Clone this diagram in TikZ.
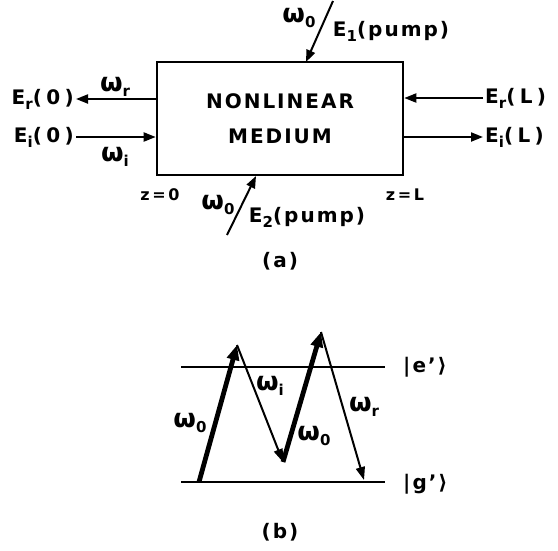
\documentclass[tikz,border=0pt]{standalone}
\usepackage{fontspec}
\setmainfont{DejaVu Sans Bold}[LetterSpace=10]
\usetikzlibrary{arrows.meta}
\newcommand\lo[1]{\raisebox{-0.45ex}{\fontsize{15}{15}\selectfont #1}}
\newcommand\om[1]{{\fontsize{26}{26}\selectfont ω}\lo{#1}}
\begin{document}
\begin{tikzpicture}[x=1pt,y=-1pt,
  lbl/.style={font=\fontsize{20}{22}\selectfont, inner sep=0pt},
  side/.style={font=\fontsize{20}{22}\selectfont\addfontfeature{LetterSpace=22}, inner sep=2pt},
  small/.style={font=\fontsize{16}{18}\selectfont\addfontfeature{LetterSpace=16}, inner sep=0pt},
  arr/.style={line width=2pt, -{Triangle[length=12pt,width=9pt]}},
  thickarr/.style={line width=4.8pt, -{Triangle[length=15pt,width=12pt]}},
  thinarr/.style={line width=2pt, -{Triangle[length=13pt,width=9pt]}},
  level/.style={line width=1.8pt}]
\useasboundingbox (0,0) rectangle (558,550);
% ---------- (a)
\node[draw, line width=2.6pt, minimum width=246pt, minimum height=113pt,
      inner sep=0pt, align=center, font=\fontsize{20}{35}\selectfont]
      (med) at (280,118.5) {NONLINEAR\\MEDIUM};
\node[side, anchor=east] (Er0) at (76,99) {E\lo{r}(0)};
\node[side, anchor=east] (Ei0) at (76,137) {E\lo{i}(0)};
\node[side, anchor=west] (ErL) at (483,98) {E\lo{r}(L)};
\node[side, anchor=west] (EiL) at (483,137) {E\lo{i}(L)};
\draw[arr] (med.west |- Er0.east) -- (Er0.east);
\draw[arr] (Ei0.east) -- (med.west |- Ei0.east);
\draw[arr] (ErL.west) -- (med.east |- ErL.west);
\draw[arr] (med.east |- EiL.west) -- (EiL.west);
\node[lbl] (wr) at (115,87) {\om{r}};
\node[lbl] (wi) at (115,157) {\om{i}};
\node[small] (z0) at (160,195) {z\,=\,0};
\node[small] (zL) at (405,195) {z\,=\,L};
% pumps
\coordinate (p1s) at (333,1);
\coordinate (p1t) at (306,62);
\draw[arr] (p1s) -- (p1t);
\node[lbl] (w01) at (299,18) {\om{0}};
\node[lbl] (E1) at (391,31) {E\lo{1}(pump)};
\coordinate (p2s) at (227,235);
\coordinate (p2t) at (256,176);
\draw[arr] (p2s) -- (p2t);
\node[lbl] (w02) at (218,205) {\om{0}};
\node[lbl] (E2) at (307,217) {E\lo{2}(pump)};
\node[lbl] (capa) at (280,261) {(a)};
% ---------- (b)
\coordinate (eL) at (181,367);
\coordinate (eR) at (385,367);
\coordinate (gL) at (181,482);
\coordinate (gR) at (385,482);
\draw[level] (eL) -- (eR);
\draw[level] (gL) -- (gR);
\node[lbl, anchor=west] (ket1) at (403,367) {|e'⟩};
\node[lbl, anchor=west] (ket2) at (403,484) {|g'⟩};
\coordinate (v1) at (199,482);
\coordinate (v2) at (237,345);
\coordinate (v3) at (283,462);
\coordinate (v4) at (321,332);
\coordinate (v5) at (364,480);
\draw[thickarr] (v1) -- (v2);
\draw[thinarr] (v2) -- (v3);
\draw[thickarr] (v3) -- (v4);
\draw[thinarr] (v4) -- (v5);
\node[lbl] (b0a) at (190,423) {\om{0}};
\node[lbl] (bi) at (270,386) {\om{i}};
\node[lbl] (b0b) at (314,436) {\om{0}};
\node[lbl] (br) at (364,407) {\om{r}};
\node[lbl] (capb) at (280,532) {(b)};
\end{tikzpicture}
\end{document}
